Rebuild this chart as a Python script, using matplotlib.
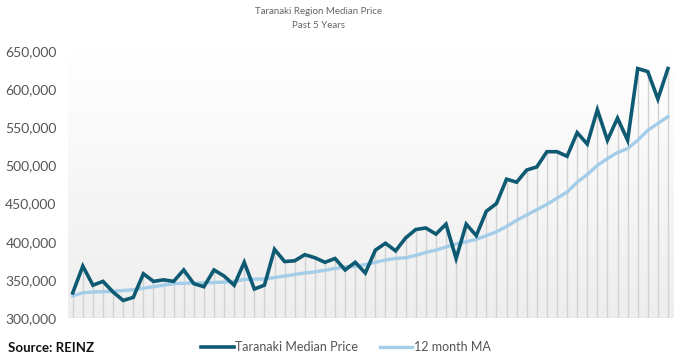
import matplotlib
matplotlib.use("Agg")
import matplotlib.pyplot as plt
import numpy as np
from matplotlib.lines import Line2D
from matplotlib.colors import LinearSegmentedColormap

median_price = [333, 368, 343, 348, 334, 323, 327, 358, 348, 350,
                348, 363, 345, 341, 363, 355, 343, 373, 338, 343,
                390, 374, 375, 383, 379, 373, 378, 363, 373, 359,
                389, 398, 388, 405, 416, 418, 410, 423, 378, 423,
                408, 440, 450, 482, 478, 494, 498, 518, 518, 512,
                543, 528, 573, 533, 562, 533, 627, 623, 587, 627]
ma_12 = [329, 333, 334, 334.5, 335, 336, 337, 339, 341, 343,
         345, 345.5, 346, 346, 346.5, 347, 348, 350.5, 351, 351,
         353, 355, 357, 359, 360.5, 362.5, 365, 367, 368, 370,
         373, 376, 378, 379, 382, 386, 389, 393, 397, 400,
         403, 408, 413, 420, 428, 435, 442, 449, 457, 465,
         478, 488, 500, 509, 517, 522, 533, 546, 555, 564]
y_ticks = [300000, 350000, 400000, 450000, 500000, 550000, 600000, 650000]

mp = np.array(median_price) * 1000
ma = np.array(ma_12) * 1000
x = np.arange(len(mp))

FONT = "Lato"
fig = plt.figure(figsize=(6.89, 3.64), dpi=100)
ax = fig.add_axes([67.7 / 689, 46 / 364, 605.3 / 689, 267 / 364])
ax.set_xlim(-0.5, len(mp) - 0.5)
ax.set_ylim(300000, 650000)

# gradient background: white at top, light grey at bottom
cmap = LinearSegmentedColormap.from_list("g", ["#ffffff", "#eeeeee"])
grad = np.linspace(0, 1, 256).reshape(-1, 1)  # row 0 = top (white)
ax.imshow(grad, aspect="auto", cmap=cmap, extent=[-0.5, len(mp) - 0.5, 300000, 650000],
          origin="upper", zorder=0, vmin=0, vmax=1, interpolation="bilinear")

ax.vlines(x, 300000, mp, color="#d2d2d2", lw=1.0, zorder=1)
ax.axhline(300000, color="#d0d0d0", lw=1.0, zorder=1)
ax.plot(x, ma, color="#a3cde8", lw=2.4, zorder=3, solid_joinstyle="round")
ax.plot(x, mp, color="#0f5a73", lw=2.6, zorder=4, solid_joinstyle="miter")

for s in ax.spines.values():
    s.set_visible(False)
ax.set_xticks([])
ax.set_yticks(y_ticks)
ax.set_yticklabels([f"{v:,}" for v in y_ticks], fontsize=10, color="#555555", family=FONT)
ax.tick_params(axis="y", length=0, pad=8)

fig.text(319 / 689, 1 - 12 / 364, "Taranaki Region Median Price", ha="center", va="center",
         fontsize=7, color="#666666", family=FONT)
fig.text(319 / 689, 1 - 25 / 364, "Past 5 Years", ha="center", va="center",
         fontsize=7, color="#666666", family=FONT)

fig.text(8 / 689, 1 - 348 / 364, "Source: REINZ", ha="left", va="center",
         fontsize=9.5, fontweight="bold", color="#111111", family=FONT)

handles = [Line2D([0], [0], color="#0f5a73", lw=2.6),
           Line2D([0], [0], color="#a3cde8", lw=2.4)]
fig.legend(handles, ["Taranaki Median Price", "12 month MA"], loc="center",
           bbox_to_anchor=(346 / 689, 1 - 347 / 364), ncol=2, frameon=False,
           prop={"family": FONT, "size": 9}, labelcolor="#555555",
           handlelength=2.6, handletextpad=0.15, columnspacing=1.7)

fig.savefig("out.png", dpi=100)
